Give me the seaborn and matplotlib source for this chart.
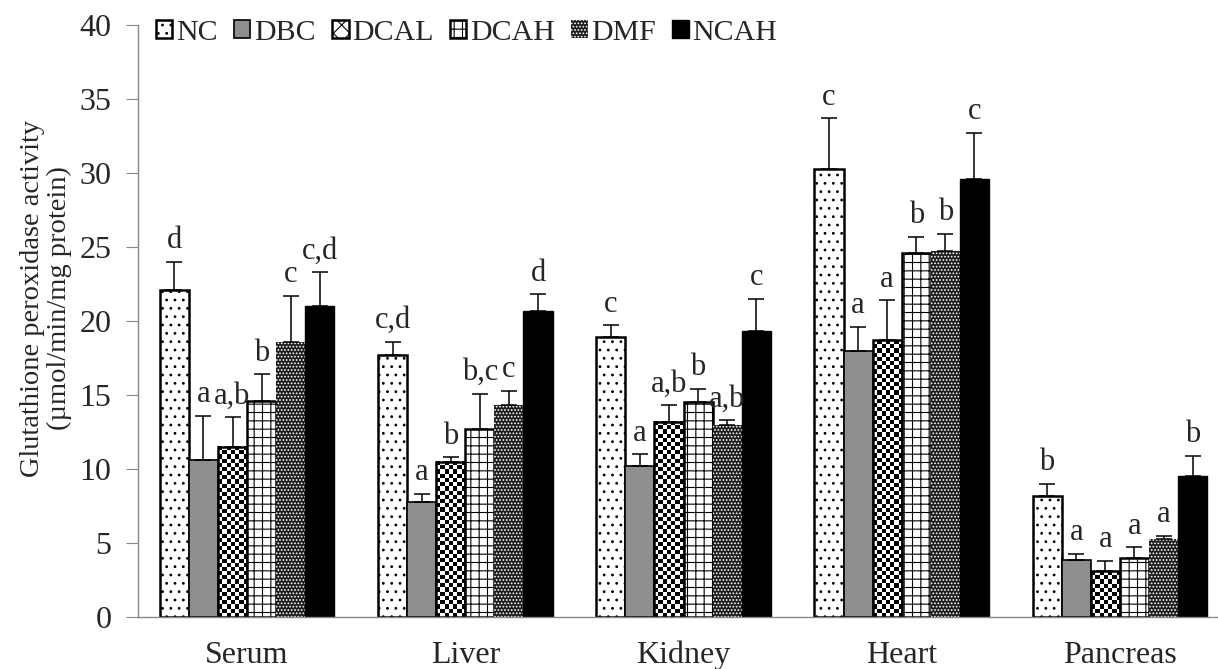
import numpy as np
import pandas as pd
import matplotlib.pyplot as plt
import seaborn as sns

# tissues on the x axis and treatment groups (hue)
tissues = ['Serum', 'Liver', 'Kidney', 'Heart', 'Pancreas']
groups = ['NC', 'DBC', 'DCAL', 'DCAH', 'DMF', 'NCAH']

# mean GPx activity per group, one list per tissue (same order as groups)
serum = [22.1, 10.6, 11.5, 14.6, 18.6, 21.0]
liver = [17.7, 7.8, 10.5, 12.7, 14.3, 20.7]
kidney = [18.9, 10.2, 13.2, 14.5, 13.0, 19.3]
heart = [30.3, 18.0, 18.7, 24.6, 24.7, 29.6]
pancreas = [8.2, 3.85, 3.1, 4.0, 5.3, 9.5]

# upper error bars (SD)
serum_err = [1.9, 3.0, 2.0, 1.8, 3.1, 2.3]
liver_err = [0.9, 0.5, 0.3, 2.4, 1.0, 1.1]
kidney_err = [0.8, 0.8, 1.1, 0.9, 0.3, 2.2]
heart_err = [3.4, 1.6, 2.7, 1.1, 1.2, 3.1]
pancreas_err = [0.8, 0.4, 0.7, 0.7, 0.2, 1.4]

# significance letters
serum_sig = ['d', 'a', 'a,b', 'b', 'c', 'c,d']
liver_sig = ['c,d', 'a', 'b', 'b,c', 'c', 'd']
kidney_sig = ['c', 'a', 'a,b', 'b', 'a,b', 'c']
heart_sig = ['c', 'a', 'a', 'b', 'b', 'c']
pancreas_sig = ['b', 'a', 'a', 'a', 'a', 'b']

values = [serum, liver, kidney, heart, pancreas]
errors = [serum_err, liver_err, kidney_err, heart_err, pancreas_err]
letters = [serum_sig, liver_sig, kidney_sig, heart_sig, pancreas_sig]

rows = []
for t, vals, errs, sigs in zip(tissues, values, errors, letters):
    for g, v, e, s in zip(groups, vals, errs, sigs):
        rows.append({'Tissue': t, 'Group': g, 'Value': v, 'Err': e, 'Sig': s})
df = pd.DataFrame(rows)

sns.set_style('white')
plt.rcParams['font.family'] = ['Liberation Serif', 'DejaVu Serif']
plt.rcParams['hatch.linewidth'] = 0.8

fig = plt.figure(figsize=(12.18, 6.69), dpi=100)
ax = fig.add_axes([138 / 1218, 1 - 617 / 669, (1229 - 138) / 1218, (617 - 25) / 669])

sns.barplot(data=df, x='Tissue', y='Value', hue='Group', order=tissues,
            hue_order=groups, errorbar=None, width=0.8, ax=ax,
            palette=['white'] * 6, legend=False)
bar_conts = list(ax.containers)

ax.set_ylim(0, 40)
ax.set_xlim(-0.5, 4.5)

# fill styles per group: (facecolor, edgecolor, hatch, linewidth)
styles = [
    ('white', 'black', '..', 1.8),
    ('#8e8e8e', 'black', '', 1.2),
    ('none', 'black', '', 1.8),
    ('white', 'black', '++', 1.8),
    ('#1e1e1e', 'white', '.....', 0.0),
    ('black', 'black', '', 1.0),
]
for cont, (fc, ec, h, lw) in zip(bar_conts, styles):
    for bar in cont.patches:
        bar.set_facecolor(fc)
        bar.set_edgecolor(ec)
        bar.set_hatch(h)
        bar.set_linewidth(lw)
        bar.set_zorder(1)

# checkerboard texture for DCAL bars (image clipped to each bar)
cell_px = 4.2
for bar in bar_conts[groups.index('DCAL')].patches:
    x0, w, h = bar.get_x(), bar.get_width(), bar.get_height()
    (px0, py0), (px1, py1) = ax.transData.transform([(x0, 0), (x0 + w, h)])
    nx = max(1, int(round((px1 - px0) / cell_px)))
    ny = max(1, int(round((py1 - py0) / cell_px)))
    board = (np.add.outer(np.arange(ny), np.arange(nx)) % 2).astype(float)
    ax.imshow(board, cmap='gray', extent=(x0, x0 + w, 0, h), origin='lower',
              interpolation='nearest', aspect='auto', zorder=0.5, clip_path=bar)
ax.set_ylim(0, 40)
ax.set_xlim(-0.5, 4.5)

# error bars and letters
for cont, g in zip(bar_conts, groups):
    sub = df[df['Group'] == g].set_index('Tissue').loc[tissues]
    xs = [b.get_x() + b.get_width() / 2 for b in cont.patches]
    ax.errorbar(xs, sub['Value'], yerr=[np.zeros(len(xs)), sub['Err']],
                fmt='none', ecolor='black', elinewidth=1.1, capsize=6,
                capthick=1.1, zorder=3)
    for x, v, e, s in zip(xs, sub['Value'], sub['Err'], sub['Sig']):
        ax.text(x, v + e + 0.45, s, ha='center', va='bottom', fontsize=22)

ax.set_yticks(range(0, 41, 5))
ax.set_xticks(range(5))
ax.set_xticks(np.arange(-0.5, 5, 1), minor=True)
ax.tick_params(axis='x', which='major', length=0, pad=17, labelsize=23)
ax.tick_params(axis='x', which='minor', length=9, color='#888888', direction='out')
ax.tick_params(axis='y', length=9, color='#888888', direction='out', left=True,
               labelsize=23, pad=10)
ax.set_xlabel('')
ax.set_ylabel('')
fig.text(46 / 1218, 1 - 298 / 669,
         'Glutathione peroxidase activity\n(µmol/min/mg protein)',
         rotation=90, ha='center', va='center', fontsize=20.5, linespacing=1.05)
for side in ['top', 'right']:
    ax.spines[side].set_visible(False)
for side in ['left', 'bottom']:
    ax.spines[side].set_color('#888888')
    ax.spines[side].set_linewidth(1.0)

# legend handles: DCAL uses a coarse cross-hatch to stand in for the checkerboard
handles = [c.patches[0] for c in bar_conts]
handles[groups.index('DCAL')] = plt.Rectangle((0, 0), 1, 1, facecolor='white',
                                              edgecolor='black', hatch='xx',
                                              linewidth=1.8)
ax.legend(handles, groups, loc='center left', bbox_to_anchor=(156 / 1218, 1 - 33 / 669),
          bbox_transform=fig.transFigure, ncol=6, frameon=False, fontsize=21.5,
          handlelength=0.55, handleheight=0.55, handletextpad=0.12,
          columnspacing=0.55, borderaxespad=0.0, borderpad=0.0)

fig.savefig('out.png', dpi=100)
